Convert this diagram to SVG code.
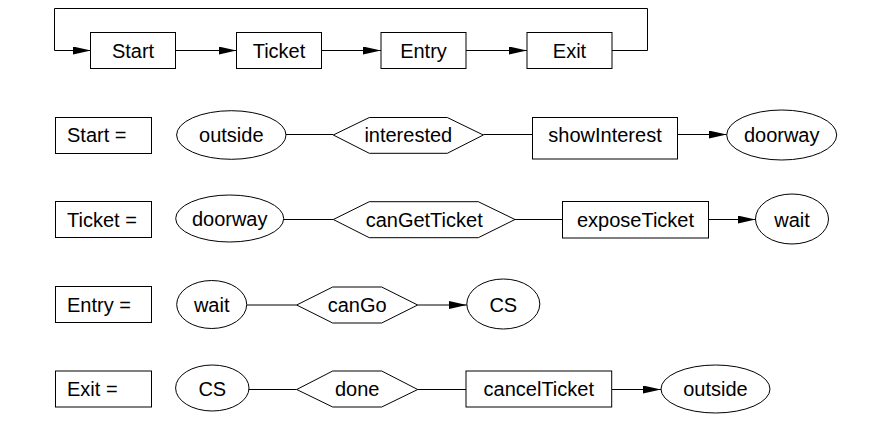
<svg xmlns="http://www.w3.org/2000/svg" width="886" height="435" viewBox="0 0 886 435">
<style>
.s{fill:#fff;stroke:#000;stroke-width:1}
.e{stroke:#000;stroke-width:1;fill:none}
.t{font-family:"Liberation Sans",Arial,sans-serif;font-size:20px;fill:#000;text-anchor:middle}
.l{font-family:"Liberation Sans",Arial,sans-serif;font-size:20px;fill:#000;text-anchor:start}
</style>
<defs>
<marker id="a" markerUnits="userSpaceOnUse" markerWidth="18" markerHeight="8" refX="18" refY="4" orient="auto">
<path d="M0,0 L18,4 L0,8 z" fill="#000"/>
</marker>
</defs>
<rect width="886" height="435" fill="#fff"/>
<g id="connectors">
<path class="e" d="M612,50.5 H647.5 V8.5 H54.5 V50.5 H91" marker-end="url(#a)"/>
<path class="e" d="M175.5,50.5 H236.5" marker-end="url(#a)"/>
<path class="e" d="M321.5,50.5 H381" marker-end="url(#a)"/>
<path class="e" d="M466,50.5 H527" marker-end="url(#a)"/>
<path class="e" d="M286,134.5 H333.3"/>
<path class="e" d="M483.3,134.5 H532.5"/>
<path class="e" d="M677.7,134.5 H726.7" marker-end="url(#a)"/>
<path class="e" d="M283.7,219.5 H333.3"/>
<path class="e" d="M515,219.5 H562.5"/>
<path class="e" d="M708.5,219.5 H755.5" marker-end="url(#a)"/>
<path class="e" d="M246.7,305 H296.7"/>
<path class="e" d="M417.7,305 H466.8" marker-end="url(#a)"/>
<path class="e" d="M249,389.5 H296.7"/>
<path class="e" d="M417.7,389.5 H466"/>
<path class="e" d="M611.7,389.5 H661" marker-end="url(#a)"/>
</g>
<g id="top-start"><rect class="s" x="90.5" y="32.5" width="85" height="36"/><text class="t" x="133" y="57.5">Start</text></g>
<g id="top-ticket"><rect class="s" x="236.5" y="32.5" width="85" height="36"/><text class="t" x="279" y="57.5">Ticket</text></g>
<g id="top-entry"><rect class="s" x="381" y="32.5" width="85" height="36"/><text class="t" x="423.5" y="57.5">Entry</text></g>
<g id="top-exit"><rect class="s" x="527" y="32.5" width="85" height="36"/><text class="t" x="569.5" y="57.5">Exit</text></g>

<g id="start-def"><rect class="s" x="55.5" y="117.5" width="96" height="36"/><text class="l" x="67" y="142">Start =</text></g>
<g id="start-outside"><ellipse class="s" cx="231.3" cy="135" rx="54.7" ry="24.3"/><text class="t" x="231.3" y="142">outside</text></g>
<g id="start-interested"><polygon class="s" points="333.3,135 369.3,117.5 447.3,117.5 483.3,135 447.3,153.3 369.3,153.3"/><text class="t" x="408.3" y="142">interested</text></g>
<g id="start-showInterest"><rect class="s" x="532.5" y="117.5" width="145" height="41.5"/><text class="t" x="605" y="141.5">showInterest</text></g>
<g id="start-doorway"><ellipse class="s" cx="781.7" cy="135" rx="55" ry="25"/><text class="t" x="781.7" y="142">doorway</text></g>

<g id="ticket-def"><rect class="s" x="55.5" y="201.5" width="96" height="36"/><text class="l" x="67" y="226.5">Ticket =</text></g>
<g id="ticket-doorway"><ellipse class="s" cx="229.7" cy="218.5" rx="54" ry="23.5"/><text class="t" x="229.7" y="226">doorway</text></g>
<g id="ticket-canGetTicket"><polygon class="s" points="333.3,219.5 369.3,201.7 478.3,201.7 515,219.5 478.3,237.7 369.3,237.7"/><text class="t" x="424.2" y="226.5">canGetTicket</text></g>
<g id="ticket-exposeTicket"><rect class="s" x="562.5" y="201.5" width="146" height="36.5"/><text class="t" x="635.5" y="226.5">exposeTicket</text></g>
<g id="ticket-wait"><ellipse class="s" cx="792" cy="219" rx="36.5" ry="25"/><text class="t" x="792" y="226.5">wait</text></g>

<g id="entry-def"><rect class="s" x="55.5" y="286.5" width="96" height="36"/><text class="l" x="67" y="311.5">Entry =</text></g>
<g id="entry-wait"><ellipse class="s" cx="211.7" cy="304.5" rx="35" ry="24"/><text class="t" x="211.7" y="312">wait</text></g>
<g id="entry-canGo"><polygon class="s" points="296.7,305 332.7,287 381.7,287 417.7,305 381.7,323 332.7,323"/><text class="t" x="357.2" y="312">canGo</text></g>
<g id="entry-CS"><ellipse class="s" cx="503.3" cy="304" rx="36.5" ry="25"/><text class="t" x="503.3" y="312">CS</text></g>

<g id="exit-def"><rect class="s" x="55.5" y="371" width="96" height="36"/><text class="l" x="67" y="396">Exit =</text></g>
<g id="exit-CS"><ellipse class="s" cx="212.3" cy="388" rx="36.7" ry="23"/><text class="t" x="212.3" y="396">CS</text></g>
<g id="exit-done"><polygon class="s" points="296.7,389.5 332.7,371 381.7,371 417.7,389.5 381.7,407 332.7,407"/><text class="t" x="357.2" y="396">done</text></g>
<g id="exit-cancelTicket"><rect class="s" x="466" y="371" width="145.7" height="36"/><text class="t" x="538.8" y="396">cancelTicket</text></g>
<g id="exit-outside"><ellipse class="s" cx="715.5" cy="389" rx="54.5" ry="24"/><text class="t" x="715.5" y="396">outside</text></g>
</svg>
